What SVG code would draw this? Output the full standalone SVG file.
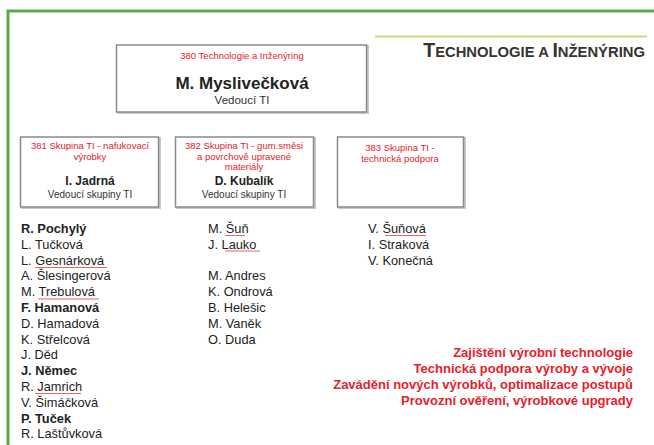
<svg xmlns="http://www.w3.org/2000/svg" width="654" height="445" viewBox="0 0 654 445">
<style>
text{font-family:"Liberation Sans",Arial,sans-serif}
.box{fill:#fff;stroke:#8a8a8a;stroke-width:1.5}
.shadow{fill:none;stroke:#c8c8c8;stroke-width:2}
.red{fill:#e8202a;font-size:9.5px}
.name{fill:#222;font-weight:bold;font-size:12px}
.role{fill:#333;font-size:10px}
.lst{fill:#222;font-size:12.8px}
.b{font-weight:bold}
.goal{fill:#e8202a;font-size:13px;font-weight:bold}
.sq{fill:none;stroke:#e04040;stroke-width:0.8}
</style>
<rect width="654" height="445" fill="#fff"/>
<path d="M8 445 V11 H654" fill="none" stroke="#5ea84a" stroke-width="3"/>
<line x1="375" y1="36.5" x2="647" y2="36.5" stroke="#c5df78" stroke-width="2"/>
<text x="645" y="57" text-anchor="end" fill="#333" font-weight="bold" font-size="19.5"><tspan>T</tspan><tspan font-size="14.8">ECHNOLOGIE A </tspan><tspan>I</tspan><tspan font-size="14.8">NŽENÝRING</tspan></text>

<g id="node380">
<rect class="shadow" x="118" y="46" width="250" height="67"/>
<rect class="box" x="116.5" y="45" width="250" height="67"/>
<text class="red" x="242" y="59" text-anchor="middle">380 Technologie a Inženýring</text>
<text x="242" y="89" text-anchor="middle" fill="#222" font-weight="bold" font-size="17">M. Myslivečková</text>
<text x="242" y="104" text-anchor="middle" fill="#333" font-size="11.5">Vedoucí TI</text>
</g>

<g id="node381">
<rect class="shadow" x="22" y="138" width="138" height="70"/>
<rect class="box" x="20.5" y="137" width="138" height="70"/>
<text class="red" x="90" y="149" text-anchor="middle">381 Skupina TI - nafukovací</text>
<text class="red" x="90" y="160" text-anchor="middle">výrobky</text>
<text class="name" x="90" y="185" text-anchor="middle">I. Jadrná</text>
<text class="role" x="90" y="198" text-anchor="middle">Vedoucí skupiny TI</text>
</g>

<g id="node382">
<rect class="shadow" x="177" y="138" width="138" height="70"/>
<rect class="box" x="175.5" y="137" width="138" height="70"/>
<text class="red" x="244" y="149" text-anchor="middle">382 Skupina TI - gum.směsi</text>
<text class="red" x="244" y="160" text-anchor="middle">a povrchově upravené</text>
<text class="red" x="244" y="170" text-anchor="middle">materiály</text>
<text class="name" x="244" y="185" text-anchor="middle">D. Kubalík</text>
<text class="role" x="244" y="198" text-anchor="middle">Vedoucí skupiny TI</text>
</g>

<g id="node383">
<rect class="shadow" x="339" y="138" width="126" height="70"/>
<rect class="box" x="337.5" y="137" width="126" height="70"/>
<text class="red" x="400" y="151" text-anchor="middle">383 Skupina TI -</text>
<text class="red" x="400" y="162" text-anchor="middle">technická podpora</text>
</g>

<g id="list381">
<text class="lst b" x="21" y="233">R. Pochylý</text>
<text class="lst" x="21" y="248.8">L. Tučková</text>
<text class="lst" x="21" y="264.6">L. Gesnárková</text>
<text class="lst" x="21" y="280.4">A. Šlesingerová</text>
<text class="lst" x="21" y="296.2">M. Trebulová</text>
<text class="lst b" x="21" y="312">F. Hamanová</text>
<text class="lst" x="21" y="327.8">D. Hamadová</text>
<text class="lst" x="21" y="343.6">K. Střelcová</text>
<text class="lst" x="21" y="359.4">J. Děd</text>
<text class="lst b" x="21" y="375.2">J. Němec</text>
<text class="lst" x="21" y="391">R. Jamrich</text>
<text class="lst" x="21" y="406.8">V. Šimáčková</text>
<text class="lst b" x="21" y="422.6">P. Tuček</text>
<text class="lst" x="21" y="438.4">R. Laštůvková</text>
</g>

<g id="list382">
<text class="lst" x="208" y="233">M. Šuň</text>
<text class="lst" x="208" y="248.8">J. Lauko</text>
<text class="lst" x="208" y="280.4">M. Andres</text>
<text class="lst" x="208" y="296.2">K. Ondrová</text>
<text class="lst" x="208" y="312">B. Helešic</text>
<text class="lst" x="208" y="327.8">M. Vaněk</text>
<text class="lst" x="208" y="343.6">O. Duda</text>
</g>

<g id="list383">
<text class="lst" x="368" y="233">V. Šuňová</text>
<text class="lst" x="368" y="248.8">I. Straková</text>
<text class="lst" x="368" y="264.6">V. Konečná</text>
</g>

<g id="spellmarks">
<path class="sq" d="M35 267.5 h72"/>
<path class="sq" d="M38 299 h61"/>
<path class="sq" d="M35 393.5 h46"/>
<path class="sq" d="M225 235.5 h20"/>
<path class="sq" d="M225 251 h35"/>
<path class="sq" d="M385 235.5 h41"/>
</g>

<g id="goals">
<text class="goal" x="633" y="357" text-anchor="end">Zajištění výrobní technologie</text>
<text class="goal" x="633" y="373" text-anchor="end">Technická podpora výroby a vývoje</text>
<text class="goal" x="633" y="389" text-anchor="end">Zavádění nových výrobků, optimalizace postupů</text>
<text class="goal" x="633" y="405" text-anchor="end">Provozní ověření, výrobkové upgrady</text>
</g>
</svg>
